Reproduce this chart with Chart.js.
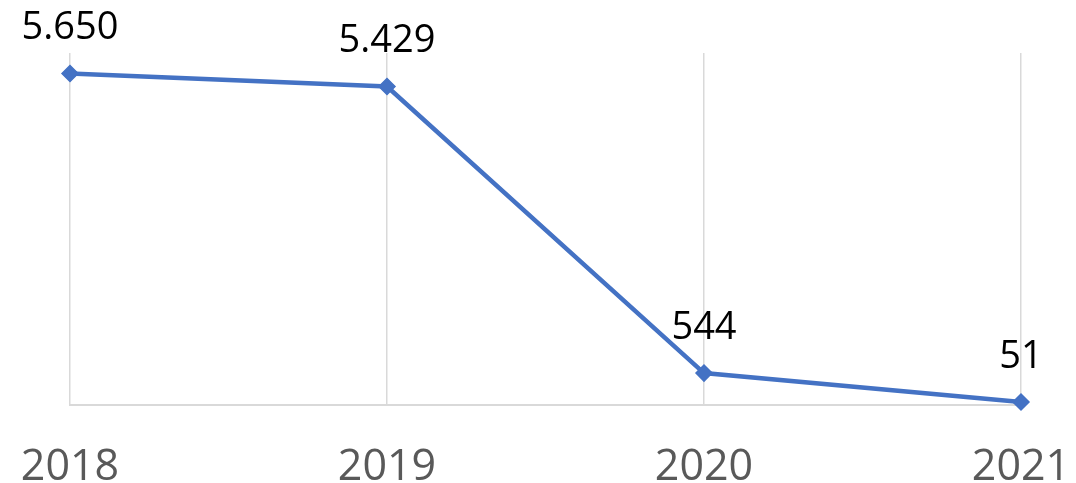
<!DOCTYPE html>
<html>
<head>
<meta charset="utf-8">
<script src="https://cdn.jsdelivr.net/npm/chart.js@4/dist/chart.umd.min.js"></script>
<style>
html,body{margin:0;padding:0;background:#fff;}
#wrap{width:1076px;height:483px;position:relative;}
</style>
</head>
<body>
<div id="wrap"><canvas id="c"></canvas></div>
<script>
const categories = ['2018', '2019', '2020', '2021'];
const values = [5650, 5429, 544, 51];
const yMin = 0;
const yMax = 6000;

function fmt(v) {
  return String(v).replace(/\B(?=(\d{3})+(?!\d))/g, '.');
}
const valueLabels = values.map(fmt);

const labelPlugin = {
  id: 'valueLabels',
  afterDatasetsDraw(chart) {
    const ctx = chart.ctx;
    const meta = chart.getDatasetMeta(0);
    ctx.save();
    ctx.font = '38px "Open Sans"';
    ctx.fillStyle = '#000000';
    ctx.textAlign = 'center';
    ctx.textBaseline = 'middle';
    meta.data.forEach((pt, i) => {
      ctx.fillText(valueLabels[i], pt.x, pt.y - 45);
    });
    ctx.restore();
  }
};

new Chart(document.getElementById('c'), {
  type: 'line',
  data: {
    labels: categories,
    datasets: [{
      data: values,
      borderColor: '#4472C4',
      backgroundColor: '#4472C4',
      borderWidth: 4.5,
      pointStyle: 'rectRot',
      pointRadius: 8,
      pointBorderWidth: 1.5,
      pointBackgroundColor: '#4472C4',
      pointBorderColor: '#4472C4',
      tension: 0,
      fill: false,
      clip: false
    }]
  },
  options: {
    responsive: true,
    maintainAspectRatio: false,
    animation: false,
    layout: { padding: { left: 70, right: 55, top: 53, bottom: 0 } },
    plugins: { legend: { display: false }, tooltip: { enabled: false } },
    scales: {
      x: {
        offset: false,
        grid: { display: true, color: '#d9d9d9', lineWidth: 1.5, drawTicks: false },
        border: { display: true, color: '#d9d9d9', width: 2 },
        ticks: {
          color: '#595959',
          font: { family: '"Open Sans"', size: 43 },
          padding: 37,
          maxRotation: 0,
          autoSkip: false
        },
        afterFit(scale) {
          scale.height = 78;
          scale.paddingLeft = 0;
          scale.paddingRight = 0;
        }
      },
      y: {
        display: false,
        min: yMin,
        max: yMax
      }
    }
  },
  plugins: [labelPlugin]
});
</script>
</body>
</html>
